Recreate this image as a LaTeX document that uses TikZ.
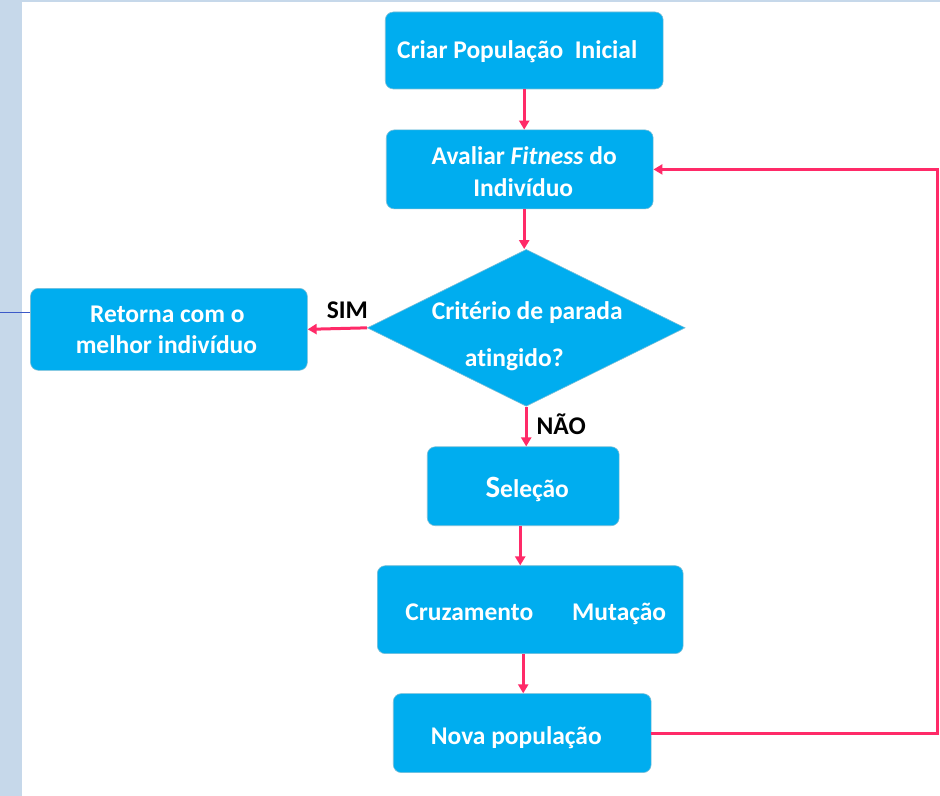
\documentclass[tikz,border=0pt]{standalone}
\usepackage{fontspec}
\setmainfont{Carlito}[Ligatures=NoCommon]
\usetikzlibrary{arrows.meta,shapes.geometric}
\definecolor{boxblue}{RGB}{0,173,239}
\definecolor{boxedge}{RGB}{120,190,215}
\definecolor{arrowpink}{RGB}{255,42,104}
\definecolor{bgblue}{RGB}{198,216,234}
\definecolor{lineblue}{RGB}{60,90,200}
\begin{document}
\begin{tikzpicture}[x=1pt,y=-1pt,
  box/.style={fill=boxblue, draw=boxedge, line width=0.6pt, rounded corners=8pt, inner sep=0pt},
  txt/.style={text=white, font=\bfseries\fontsize{25.5}{31}\selectfont, inner sep=0pt, anchor=base},
  lbl/.style={text=black, font=\bfseries\fontsize{25.5}{31}\selectfont, inner sep=0pt, anchor=base},
  flow/.style={draw=arrowpink, line width=3pt, -{Triangle[length=9pt,width=10pt]}}]
% background
\fill[bgblue] (0,0) rectangle (940,796);
\fill[white] (22,2) rectangle (940,796);
\draw[lineblue, line width=1pt] (0,313) -- (30,313);
\useasboundingbox (0,0) rectangle (940,796);
% boxes
\node[box, minimum width=278, minimum height=77] (b1) at (524,50.5) {};
\node[box, minimum width=267, minimum height=79] (b2) at (519.5,169.5) {};
\node[diamond, fill=boxblue, draw=boxedge, line width=0.6pt, minimum width=318, minimum height=157, inner sep=0pt] (d) at (526,328) {};
\node[box, minimum width=277, minimum height=82] (r) at (168.5,329.5) {};
\node[box, minimum width=192, minimum height=79] (s) at (523,486.5) {};
\node[box, minimum width=306, minimum height=88] (c) at (530,610) {};
\node[box, minimum width=258, minimum height=79] (n) at (522,733.5) {};
% texts
\node[txt] (t1) at (517,59) {Criar População\ \ Inicial};
\node[txt] (t2a) at (524,165) {Avaliar \textit{Fitness} do};
\node[txt] (t2b) at (523,197) {Indivíduo};
\node[txt] (dt1) at (527,320) {Critério de parada};
\node[txt] (dt2) at (514,367) {atingido?};
\node[txt] (rt1) at (167,323) {Retorna com o};
\node[txt] (rt2) at (166,354) {melhor indivíduo};
\node[txt] (st) at (527,498) {{\fontsize{31}{31}\selectfont S}eleção};
\node[txt] (ct1) at (469,621) {Cruzamento};
\node[txt] (ct2) at (619,621) {Mutação};
\node[txt] (nt) at (516,745) {Nova população};
% labels
\node[lbl] (sim) at (347,319) {SIM};
\node[lbl] (nao) at (561,435) {NÃO};
% connectors
\coordinate (loop) at (937,733.5);
\draw[flow] (b1.south -| 524,0) -- (b2.north -| 524,0);
\draw[flow] (b2.south -| 524,0) -- (d.north -| 524,0);
\draw[flow] (d.west) -- (r.east);
\draw[flow] (d.south) -- (s.north -| d.south);
\draw[flow] (s.south -| 520,0) -- (c.north -| 520,0);
\draw[flow] (c.south -| 523,0) -- (n.north -| 523,0);
\draw[flow] (n.east) -- (loop) |- (b2.east);
\end{tikzpicture}
\end{document}
